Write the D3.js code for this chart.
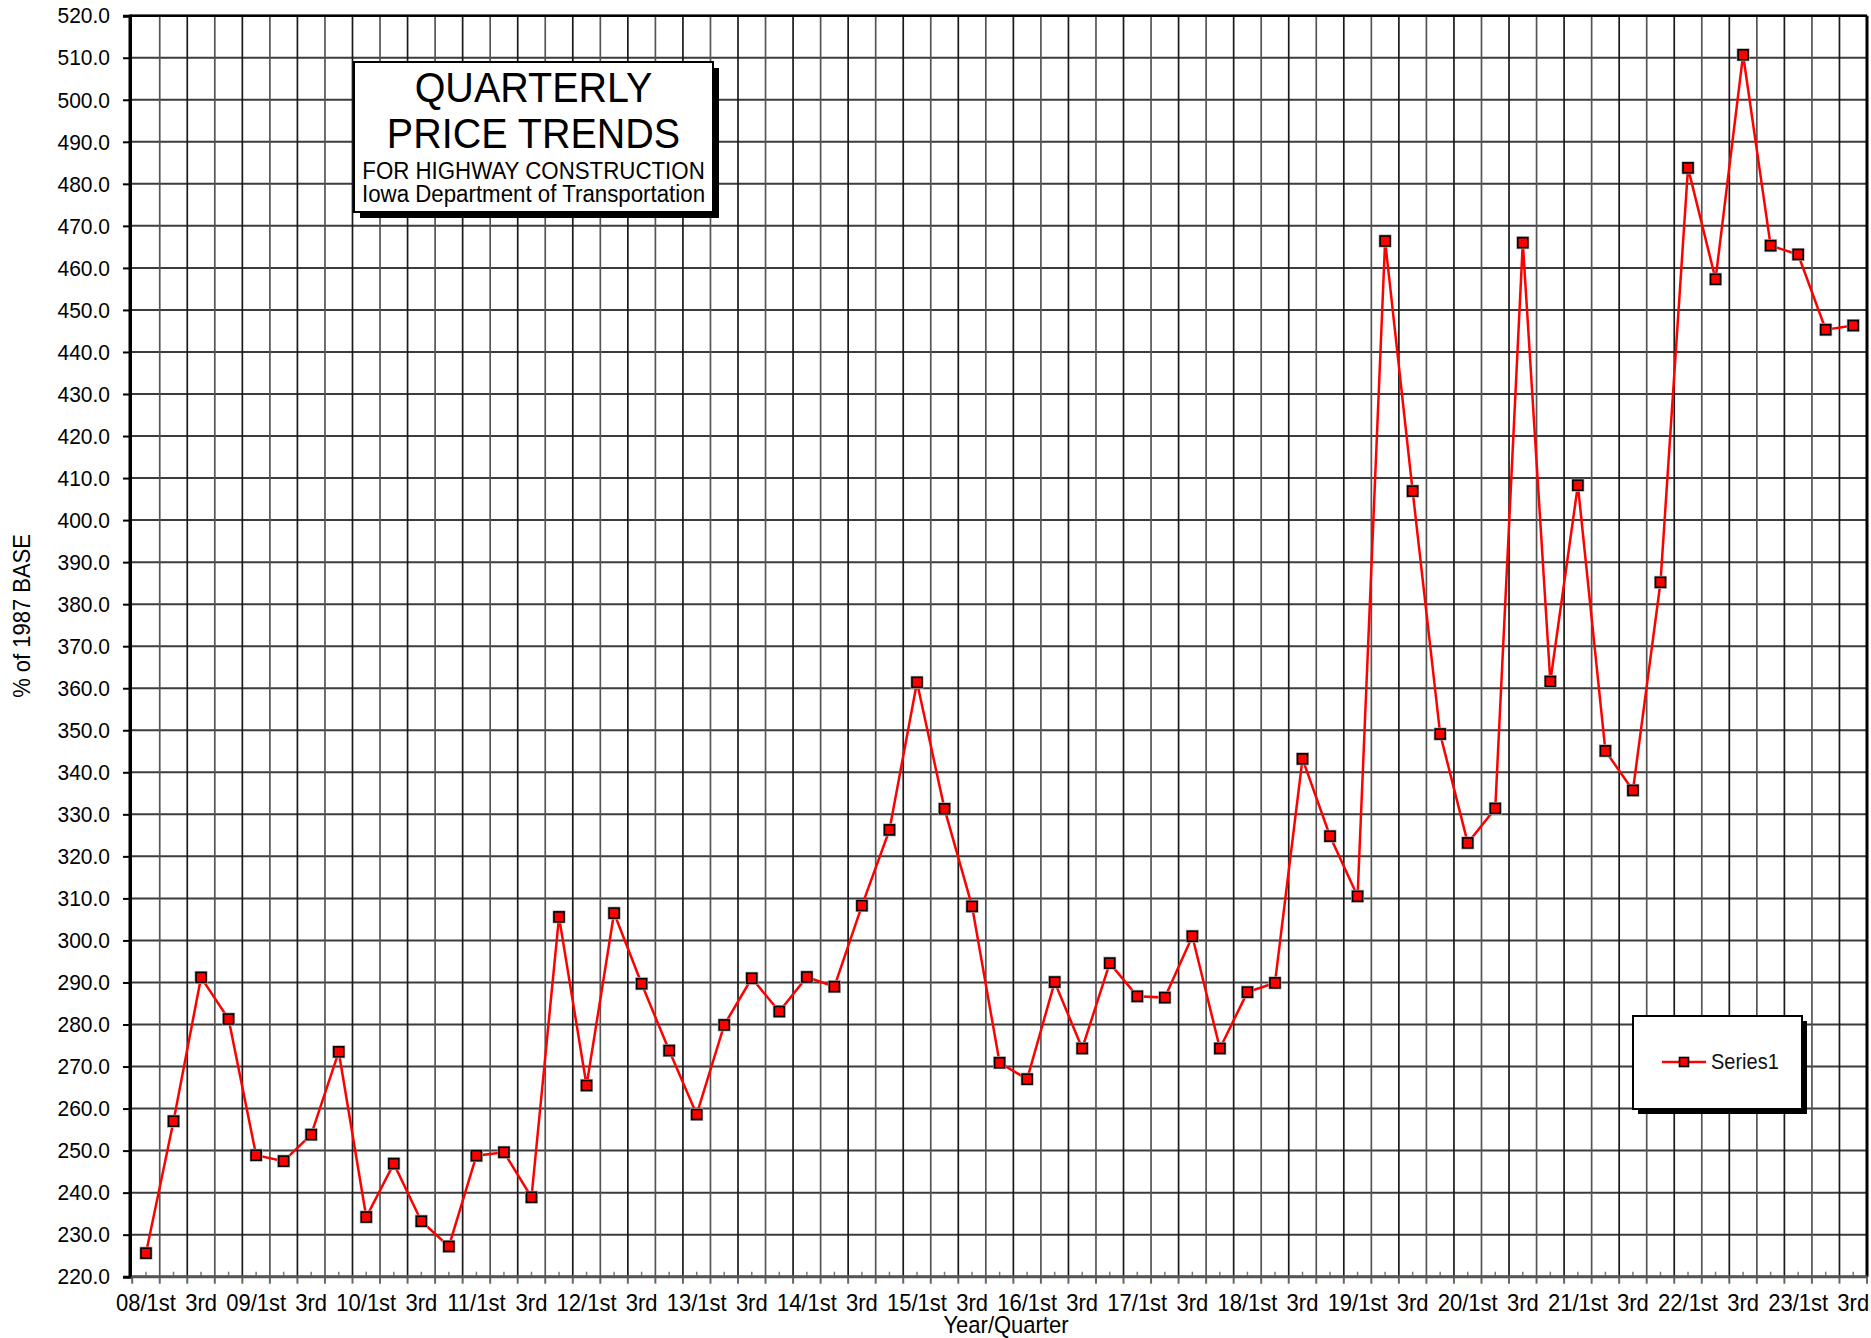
<!DOCTYPE html>
<html>
<head>
<meta charset="utf-8">
<script src="https://cdn.jsdelivr.net/npm/d3@7"></script>
<style>
  html, body { margin: 0; padding: 0; background: #fff; }
  svg { display: block; font-family: "Liberation Sans", Arial, sans-serif; }
</style>
</head>
<body>
<svg id="chart" width="1871" height="1338"></svg>
<script>
// ---- data ----
const years = ["08","09","10","11","12","13","14","15","16","17","18","19","20","21","22","23"];
const quarters = ["1st","2nd","3rd","4th"];
const values = [
  225.6, 257.0, 291.2, 281.3,
  248.9, 247.5, 253.8, 273.5,
  234.2, 246.9, 233.2, 227.2,
  248.8, 249.6, 238.9, 305.6,
  265.5, 306.5, 289.7, 273.8,
  258.6, 279.9, 291.0, 283.1,
  291.3, 289.0, 308.3, 326.3,
  361.4, 331.3, 308.1, 270.9,
  267.0, 290.1, 274.3, 294.6,
  286.7, 286.4, 301.0, 274.3,
  287.7, 289.9, 343.2, 324.8,
  310.5, 466.4, 406.9, 349.1,
  323.2, 331.4, 466.0, 361.6,
  408.3, 345.1, 335.7, 385.2,
  483.8, 457.3, 510.7, 465.3,
  463.2, 445.3, 446.3
];
const xTickLabels = [
  "08/1st","3rd","09/1st","3rd","10/1st","3rd","11/1st","3rd",
  "12/1st","3rd","13/1st","3rd","14/1st","3rd","15/1st","3rd",
  "16/1st","3rd","17/1st","3rd","18/1st","3rd","19/1st","3rd",
  "20/1st","3rd","21/1st","3rd","22/1st","3rd","23/1st","3rd"
];
const yTickValues = [220,230,240,250,260,270,280,290,300,310,320,330,340,350,360,370,
  380,390,400,410,420,430,440,450,460,470,480,490,500,510,520];
const seriesName = "Series1";
const titleLines = ["QUARTERLY","PRICE TRENDS","FOR HIGHWAY CONSTRUCTION","Iowa Department of Transportation"];
const yAxisTitle = "% of 1987 BASE";
const xAxisTitle = "Year/Quarter";

const categories = years.flatMap(y => quarters.map(q => y + "/" + q)).slice(0, values.length);
const data = categories.map((c, i) => ({ cat: c, v: values[i] }));

// ---- layout ----
const L = 130, R = 1867, T = 15.7, B = 1276.7;
const SX = 0.926; // slight horizontal condensation of text
const svg = d3.select("#chart");

const x = d3.scaleBand().domain(categories).range([132.2, R]).paddingInner(0).paddingOuter(0);
const y = d3.scaleLinear().domain([220, 520]).range([B, T]);
const bw = x.bandwidth();
const cx = c => x(c) + bw / 2;

function ctext(sel, tx, ty, size, str, anchor, rot) {
  return sel.append("text")
    .attr("transform", `translate(${tx},${ty})` + (rot ? ` rotate(${rot})` : "") + ` scale(${SX},1)`)
    .attr("text-anchor", anchor || "middle")
    .attr("font-size", size).attr("fill", "#000").text(str);
}

// gridlines - horizontal
svg.append("g").selectAll("line").data(yTickValues).join("line")
  .attr("x1", L).attr("x2", R)
  .attr("y1", d => y(d)).attr("y2", d => y(d))
  .attr("stroke", "#3c3c3c").attr("stroke-width", 2);

// gridlines - vertical at category boundaries
const boundaries = categories.map(c => x(c)).concat([R]);
svg.append("g").selectAll("line").data(boundaries.slice(1)).join("line")
  .attr("x1", d => d).attr("x2", d => d)
  .attr("y1", T).attr("y2", B)
  .attr("stroke", (d, i) => i % 2 ? "#1a1a1a" : "#555").attr("stroke-width", 1.7);

// title box
const tb = { x: 354, y: 62, w: 359, h: 150 };
svg.append("rect").attr("x", tb.x + 6).attr("y", tb.y + 6).attr("width", tb.w).attr("height", tb.h).attr("fill", "#000");
svg.append("rect").attr("x", tb.x).attr("y", tb.y).attr("width", tb.w).attr("height", tb.h)
  .attr("fill", "#fff").attr("stroke", "#000").attr("stroke-width", 2);
const tcx = tb.x + tb.w / 2;
const tBase = [101.5, 147.5, 179, 201.5];
const tSize = [39.5 / SX, 39.5 / SX, 22.3 / SX, 22.3 / SX];
titleLines.forEach((t, i) => ctext(svg, tcx, tBase[i], tSize[i], t));

// data line
const line = d3.line().x(d => cx(d.cat)).y(d => y(d.v));
svg.append("path").datum(data).attr("d", line)
  .attr("fill", "none").attr("stroke", "#ff0000").attr("stroke-width", 2.5).attr("stroke-linejoin", "miter");

// markers
const ms = 10;
const mk = svg.append("g");
mk.selectAll("rect.halo").data(data).join("rect").attr("class", "halo")
  .attr("x", d => cx(d.cat) - ms / 2 - 1.5).attr("y", d => y(d.v) - ms / 2 - 1.5)
  .attr("width", ms + 3).attr("height", ms + 3).attr("fill", "#aaa");
mk.selectAll("rect.m").data(data).join("rect").attr("class", "m")
  .attr("x", d => cx(d.cat) - ms / 2).attr("y", d => y(d.v) - ms / 2)
  .attr("width", ms).attr("height", ms)
  .attr("fill", "#ff0000").attr("stroke", "#000").attr("stroke-width", 1.6);

// legend
const lg = { x: 1633, y: 1016, w: 169, h: 93 };
svg.append("rect").attr("x", lg.x + 5).attr("y", lg.y + 5).attr("width", lg.w).attr("height", lg.h).attr("fill", "#000");
svg.append("rect").attr("x", lg.x).attr("y", lg.y).attr("width", lg.w).attr("height", lg.h)
  .attr("fill", "#fff").attr("stroke", "#000").attr("stroke-width", 2);
svg.append("line").attr("x1", 1662).attr("x2", 1706).attr("y1", 1062).attr("y2", 1062)
  .attr("stroke", "#ff0000").attr("stroke-width", 2.5);
svg.append("rect").attr("x", 1684 - 4.5).attr("y", 1062 - 4.5).attr("width", 9).attr("height", 9)
  .attr("fill", "#ff0000").attr("stroke", "#000").attr("stroke-width", 1.6);
ctext(svg, 1711, 1069, 20 / SX, seriesName, "start").attr("fill", "#111");

// frame: top and right
svg.append("line").attr("x1", L).attr("x2", R).attr("y1", T).attr("y2", T).attr("stroke", "#000").attr("stroke-width", 2.5);
svg.append("line").attr("x1", R).attr("x2", R).attr("y1", T).attr("y2", B).attr("stroke", "#000").attr("stroke-width", 3);

// y axis
const yAxis = d3.axisLeft(y).tickValues(yTickValues).tickFormat(d3.format(".1f")).tickSize(7).tickPadding(13);
const gy = svg.append("g").attr("transform", `translate(${L},0)`).call(yAxis);
gy.select(".domain").attr("stroke", "#000").attr("stroke-width", 3);
gy.selectAll(".tick line").attr("stroke", "#000").attr("stroke-width", 2);
gy.selectAll(".tick text").attr("font-size", 21 / SX).attr("fill", "#000")
  .attr("font-family", "'Liberation Sans', Arial, sans-serif")
  .attr("x", -20 / SX).attr("transform", `scale(${SX},1)`);

// x axis: boundary ticks below, minor ticks inside, labels on every other category
const gx = svg.append("g");
gx.selectAll("line.bt").data(boundaries).join("line").attr("class", "bt")
  .attr("x1", d => d).attr("x2", d => d).attr("y1", B).attr("y2", B + 7)
  .attr("stroke", "#666").attr("stroke-width", 2);
gx.selectAll("line.mt").data(categories).join("line").attr("class", "mt")
  .attr("x1", d => cx(d)).attr("x2", d => cx(d)).attr("y1", B).attr("y2", B - 5)
  .attr("stroke", "#777").attr("stroke-width", 1.5);
gx.append("line").attr("x1", L).attr("x2", R).attr("y1", B).attr("y2", B)
  .attr("stroke", "#555").attr("stroke-width", 3);
const labelCats = categories.filter((c, i) => i % 2 === 0);
labelCats.forEach((c, i) => ctext(gx, cx(c), 1311, 22 / SX, xTickLabels[i]));

// re-draw left axis line on top
svg.append("line").attr("x1", L).attr("x2", L).attr("y1", T - 1).attr("y2", B + 1).attr("stroke", "#000").attr("stroke-width", 3);

// axis titles
ctext(svg, 30, 616, 22 / SX, yAxisTitle, "middle", -90);
ctext(svg, 1006, 1333, 22 / SX, xAxisTitle, "middle");
</script>
</body>
</html>
